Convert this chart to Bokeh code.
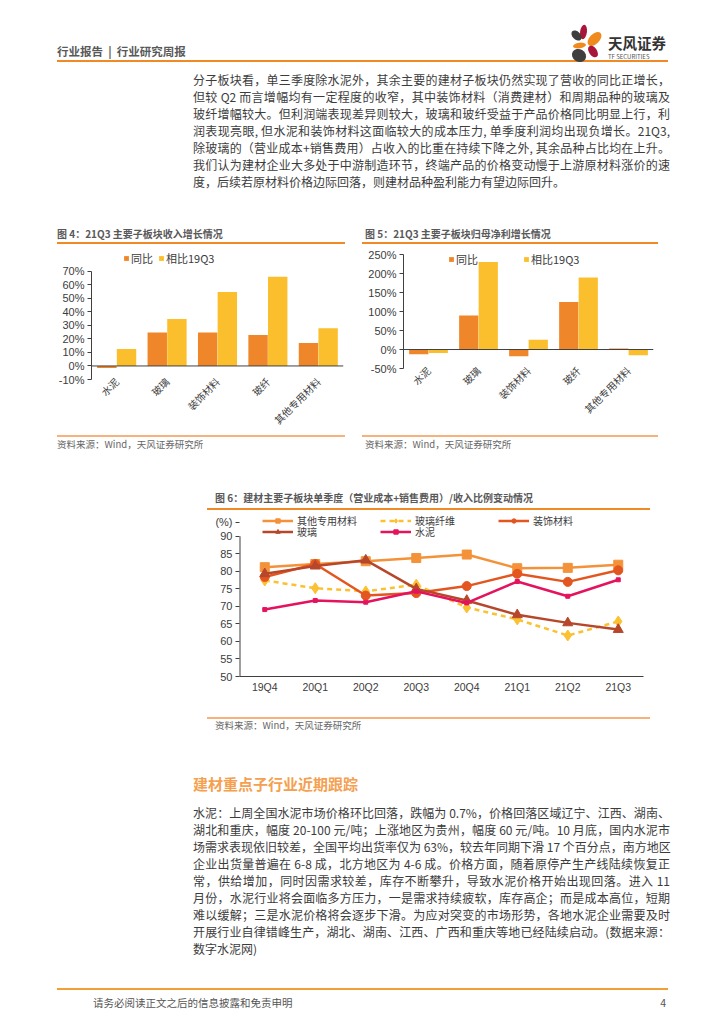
from math import pi
from bokeh.plotting import figure
from bokeh.models import (Div, Spacer, Range1d, ColumnDataSource, Legend, LegendItem,
                          Span, FixedTicker, PrintfTickFormatter)
from bokeh.layouts import column, row
from bokeh.transform import dodge
from bokeh.embed import file_html
from bokeh.resources import INLINE

# ---------------- data ----------------
sectors = ["水泥", "玻璃", "装饰材料", "玻纤", "其他专用材料"]
rev_yoy = [-1.5, 24.7, 24.7, 22.8, 17.0]          # 图4 同比 (%)
rev_vs19 = [12.6, 34.6, 54.7, 65.9, 27.8]         # 图4 相比19Q3 (%)
profit_yoy = [-12.4, 89.5, -17.7, 125.0, 2.7]     # 图5 同比 (%)
profit_vs19 = [-8.9, 231.0, 25.7, 189.7, -15.0]   # 图5 相比19Q3 (%)

quarters = ["19Q4", "20Q1", "20Q2", "20Q3", "20Q4", "21Q1", "21Q2", "21Q3"]
other_mat = [81.2, 82.1, 82.9, 83.8, 84.8, 80.9, 81.0, 81.9]     # 其他专用材料
glass_fiber = [77.4, 75.2, 74.3, 76.2, 69.7, 66.3, 61.7, 65.7]   # 玻璃纤维
decor_mat = [78.4, 82.1, 73.1, 73.8, 75.8, 79.3, 77.0, 80.3]     # 装饰材料
glass = [79.3, 81.5, 83.2, 75.0, 71.7, 67.6, 65.3, 63.4]         # 玻璃
cement = [69.1, 71.7, 71.2, 74.3, 71.0, 77.1, 72.9, 77.6]        # 水泥

para1 = [
    "分子板块看，单三季度除水泥外，其余主要的建材子板块仍然实现了营收的同比正增长，",
    "但较 Q2 而言增幅均有一定程度的收窄，其中装饰材料（消费建材）和周期品种的玻璃及",
    "玻纤增幅较大。但利润端表现差异则较大，玻璃和玻纤受益于产品价格同比明显上行，利",
    "润表现亮眼, 但水泥和装饰材料这面临较大的成本压力, 单季度利润均出现负增长。21Q3,",
    "除玻璃的（营业成本+销售费用）占收入的比重在持续下降之外, 其余品种占比均在上升。",
    "我们认为建材企业大多处于中游制造环节，终端产品的价格变动慢于上游原材料涨价的速",
    "度，后续若原材料价格边际回落，则建材品种盈利能力有望边际回升。",
]
para2 = [
    "水泥：上周全国水泥市场价格环比回落，跌幅为 0.7%，价格回落区域辽宁、江西、湖南、",
    "湖北和重庆，幅度 20-100 元/吨；上涨地区为贵州，幅度 60 元/吨。10 月底，国内水泥市",
    "场需求表现依旧较差，全国平均出货率仅为 63%，较去年同期下滑 17 个百分点，南方地区",
    "企业出货量普遍在 6-8 成，北方地区为 4-6 成。价格方面，随着原停产生产线陆续恢复正",
    "常，供给增加，同时因需求较差，库存不断攀升，导致水泥价格开始出现回落。进入 11",
    "月份，水泥行业将会面临多方压力，一是需求持续疲软，库存高企；而是成本高位，短期",
    "难以缓解；三是水泥价格将会逐步下滑。为应对突变的市场形势，各地水泥企业需要及时",
    "开展行业自律错峰生产，湖北、湖南、江西、广西和重庆等地已经陆续启动。(数据来源：",
    "数字水泥网)",
]

# ---------------- styles ----------------
FONT_CJK = "'Noto Sans CJK SC', 'Noto Sans', sans-serif"
CJK = "Noto Sans CJK SC"
LAT = "Liberation Sans"
TXT = "#3c3c3c"
ORANGE = "#F0862A"
YELLOW = "#FBBF2D"
LINE_OR = "#F08A24"
AXIS = "#404040"


def atext(txt, left, cy, size, color=TXT, weight="normal", width=None, align="left", lh=None):
    lh = lh if lh else round(size * 1.4)
    top = cy - lh / 2
    w = f"width:{width}px;" if width else ""
    if align == "justify":
        al = "text-align:justify;text-align-last:justify;"
    elif align == "right":
        al = "text-align:right;"
    else:
        al = "text-align:left;"
    return (f'<div style="position:absolute;left:{left}px;top:{top}px;{w}font-size:{size}px;'
            f'line-height:{lh}px;font-weight:{weight};color:{color};white-space:nowrap;{al}">{txt}</div>')


def aline(left, top, width, color, h=2):
    return (f'<div style="position:absolute;left:{left}px;top:{top}px;width:{width}px;'
            f'height:{h}px;background:{color};"></div>')


def box(items, width, height):
    html = (f'<div style="position:relative;width:{width}px;height:{height}px;overflow:hidden;'
            f'font-family:{FONT_CJK};color:{TXT};">' + "".join(items) + "</div>")
    return Div(text=html, width=width, height=height, margin=0)


logo_svg = (
    '<svg style="position:absolute;left:557px;top:12px;" width="44" height="46" viewBox="0 0 44 46">'
    '<ellipse cx="18.5" cy="12" rx="3.4" ry="7.2" transform="rotate(8 18.5 12)" fill="#A8173A"/>'
    '<ellipse cx="29.5" cy="19" rx="8.5" ry="5" transform="rotate(-45 29.5 19)" fill="#F08A1C"/>'
    '<ellipse cx="11.5" cy="15.5" rx="6" ry="4" transform="rotate(45 11.5 15.5)" fill="#3f3f3f"/>'
    '<ellipse cx="14.5" cy="25.5" rx="6.5" ry="2.8" transform="rotate(-8 14.5 25.5)" fill="#F08A1C"/>'
    '<ellipse cx="28" cy="31.5" rx="4" ry="6.5" transform="rotate(-35 28 31.5)" fill="#A8173A"/>'
    '<ellipse cx="14" cy="35.5" rx="7.3" ry="6.3" transform="rotate(30 14 35.5)" fill="#3f3f3f"/>'
    '</svg>'
)

# ---------------- block A: header + paragraph ----------------
itemsA = [
    atext("行业报告 &nbsp;|&nbsp; 行业研究周报", 49, 43, 11.5, color="#595959", weight="bold"),
    aline(49, 52, 611, LINE_OR, 2),
    logo_svg,
    atext("天风证券", 600, 35, 14.5, color="#333333", weight="bold", lh=14),
    atext("TF SECURITIES", 600, 48.5, 6, color="#555555", lh=6),
]
for i, ln in enumerate(para1):
    last = i == len(para1) - 1
    itemsA.append(atext(ln, 185, 71 + 17 * i, 12, width=477, align="left" if last else "justify", lh=17))
blockA = box(itemsA, 708, 217)


# ---------------- bar charts ----------------
def bar_chart(yoy, vs19, ymin, ymax, ytop, step, width, height, bl, br, bt, bb, leg_x, leg_y, leg_sp):
    src = ColumnDataSource(dict(cat=sectors, yoy=yoy, vs=vs19))
    p = figure(x_range=sectors, y_range=Range1d(ymin, ytop), width=width, height=height,
               toolbar_location=None, output_backend="svg",
               min_border_left=bl, min_border_right=br, min_border_top=bt, min_border_bottom=bb)
    p.margin = 0
    r1 = p.vbar(x=dodge("cat", -0.195, range=p.x_range), top="yoy", width=0.385, source=src,
                fill_color=ORANGE, line_color=None)
    r2 = p.vbar(x=dodge("cat", 0.195, range=p.x_range), top="vs", width=0.385, source=src,
                fill_color=YELLOW, line_color=None)
    p.add_layout(Span(location=0, dimension="width", line_color=AXIS, line_width=1))
    p.outline_line_color = None
    p.grid.visible = False
    p.xaxis.axis_line_color = None
    p.xaxis.major_tick_line_color = None
    p.xaxis.major_tick_out = 0
    p.xaxis.major_tick_in = 0
    p.xaxis.major_label_orientation = pi / 4
    p.xaxis.major_label_standoff = 0
    p.xaxis.major_label_text_font = CJK
    p.xaxis.major_label_text_font_size = "10px"
    p.xaxis.major_label_text_line_height = 0.2
    p.xaxis.major_label_text_color = TXT
    p.yaxis.bounds = (ymin, ymax)
    p.yaxis.ticker = FixedTicker(ticks=list(range(ymin, ymax + 1, step)))
    p.yaxis.formatter = PrintfTickFormatter(format="%d%%")
    p.yaxis.axis_line_color = AXIS
    p.yaxis.major_tick_line_color = AXIS
    p.yaxis.major_tick_out = 4
    p.yaxis.major_tick_in = 0
    p.yaxis.minor_tick_line_color = None
    p.yaxis.major_label_standoff = 3
    p.yaxis.major_label_text_font = LAT
    p.yaxis.major_label_text_font_size = "11px"
    p.yaxis.major_label_text_color = TXT
    lg = Legend(items=[LegendItem(label="同比", renderers=[r1]), LegendItem(label="相比19Q3", renderers=[r2])],
                location=(leg_x, leg_y), orientation="horizontal", border_line_color=None,
                background_fill_alpha=0, padding=0, margin=0, spacing=leg_sp, glyph_width=6, glyph_height=6,
                label_standoff=2, label_text_font=CJK, label_text_font_size="11px", label_height=12,
                label_text_color=TXT)
    p.add_layout(lg)
    return p


# frames extended a little above the top tick so the legends sit inside the frame
p4 = bar_chart(rev_yoy, rev_vs19, -10, 70, 86, 10, 305, 187, 41, 12, 1, 55, 32, 113, 5)
p5 = bar_chart(profit_yoy, profit_vs19, -50, 250, 261, 50, 313, 187, 48, 15, 2, 67, 45, 101, 45)

src_txt = "资料来源：Wind，天风证券研究所"
t4 = box([atext("图 4：21Q3 主要子板块收入增长情况", 7, 9, 10, color="#595959", weight="bold"),
          aline(7, 17, 288, LINE_OR, 1.5)], 305, 23)
s4 = box([aline(7, 0, 288, "#F6B27A", 1.5), atext(src_txt, 7, 9, 9.5, color="#666666")], 305, 20)
t5 = box([atext("图 5：21Q3 主要子板块归母净利增长情况", 10, 9, 10, color="#595959", weight="bold"),
          aline(7, 17, 296, LINE_OR, 1.5)], 313, 23)
s5 = box([aline(7, 0, 296, "#F6B27A", 1.5), atext(src_txt, 10, 9, 9.5, color="#666666")], 313, 20)

col4 = column(t4, p4, s4, spacing=0, margin=0)
col5 = column(t5, p5, s5, spacing=0, margin=0)
blockB = row(Spacer(width=42, height=230, margin=0), col4, col5, spacing=0, margin=0)

# ---------------- line chart ----------------
src6 = ColumnDataSource(dict(q=quarters, other=other_mat, gf=glass_fiber, decor=decor_mat,
                             glass=glass, cement=cement))
p6 = figure(x_range=quarters, y_range=Range1d(50, 96.8), width=450, height=188,
            toolbar_location=None, output_backend="svg",
            min_border_left=34, min_border_right=12, min_border_top=0, min_border_bottom=24)
p6.margin = 0
series = [
    ("其他专用材料", "other", "#F4923A", "solid", "square", 9),
    ("玻璃纤维", "gf", "#FCC131", "dashed", "diamond", 11),
    ("装饰材料", "decor", "#E4561F", "solid", "circle", 9),
    ("玻璃", "glass", "#B7472A", "solid", "triangle", 10),
    ("水泥", "cement", "#E5135E", "solid", "square", 4),
]
leg_pos = [(23, 148), (141, 148), (259, 148), (23, 137), (141, 137)]
for (name, col, colr, dash, mk, sz), (lx, ly) in zip(series, leg_pos):
    ln = p6.line(x="q", y=col, source=src6, line_color=colr, line_width=2.5,
                 line_dash="5 4" if dash == "dashed" else "solid")
    sc = p6.scatter(x="q", y=col, source=src6, marker=mk, size=sz, fill_color=colr, line_color=colr)
    lg = Legend(items=[LegendItem(label=name, renderers=[ln, sc])], location=(lx, ly),
                orientation="horizontal", border_line_color=None, background_fill_alpha=0,
                padding=0, margin=0, glyph_width=31, glyph_height=11, label_standoff=4,
                label_text_font=CJK, label_text_font_size="10px", label_height=11,
                label_text_color=TXT)
    p6.add_layout(lg)

# y axis: ticks 50..90 plus the unit "(%)" shown as the label of an extra tick above 90;
# the native axis line is hidden and redrawn only from 50 to 90 along the frame's left edge
p6.yaxis.bounds = (50, 94)
p6.yaxis.ticker = FixedTicker(ticks=list(range(50, 91, 5)) + [94])
p6.yaxis.major_label_overrides = {94: "(%)"}
p6.yaxis.axis_line_color = None
p6.segment(x0=[0], y0=[50], x1=[0], y1=[90], line_color=AXIS, line_width=2)

p6.outline_line_color = None
p6.grid.visible = False
p6.xaxis.axis_line_color = AXIS
p6.xaxis.major_tick_line_color = None
p6.xaxis.major_tick_out = 0
p6.xaxis.major_tick_in = 0
p6.xaxis.major_label_standoff = 4
p6.xaxis.major_label_text_font = LAT
p6.xaxis.major_label_text_font_size = "10.5px"
p6.xaxis.major_label_text_color = TXT
p6.yaxis.major_tick_line_color = AXIS
p6.yaxis.major_tick_out = 4
p6.yaxis.major_tick_in = 0
p6.yaxis.minor_tick_line_color = None
p6.yaxis.major_label_standoff = 3
p6.yaxis.major_label_text_font = LAT
p6.yaxis.major_label_text_font_size = "11px"
p6.yaxis.major_label_text_color = TXT

t6 = box([atext("图 6：建材主要子板块单季度（营业成本+销售费用）/收入比例变动情况", 10, 43, 10,
                color="#595959", weight="bold"),
          aline(2, 53, 443, LINE_OR, 1.5)], 450, 57)
s6 = box([aline(2, 17, 443, "#F6B27A", 1.5), atext(src_txt, 10, 25, 9.5, color="#666666")], 450, 35)
col6 = column(t6, p6, s6, spacing=0, margin=0)
blockC = row(Spacer(width=197, height=280, margin=0), col6, spacing=0, margin=0)

# ---------------- block D ----------------
itemsD = [atext("建材重点子行业近期跟踪", 185, 48, 15, color="#F5A04F", weight="bold")]
for i, ln in enumerate(para2):
    last = i == len(para2) - 1
    itemsD.append(atext(ln, 185, 77 + 17 * i, 12, width=477, align="left" if last else "justify", lh=17))
itemsD += [
    aline(49, 253, 611, "#F2A035", 2),
    atext("请务必阅读正文之后的信息披露和免责申明", 85, 267, 10.5, color="#555555"),
    atext("4", 640, 267, 10.5, color="#555555", width=18, align="right"),
]
blockD = box(itemsD, 708, 277)

inner = column(Spacer(width=708, height=8, margin=0), blockA, blockB, blockC, blockD, spacing=0, margin=0)
page = row(Spacer(width=8, height=1012, margin=0), inner, spacing=0, margin=0)

open("out.html", "w").write(file_html(page, INLINE, "建材行业研究周报"))
